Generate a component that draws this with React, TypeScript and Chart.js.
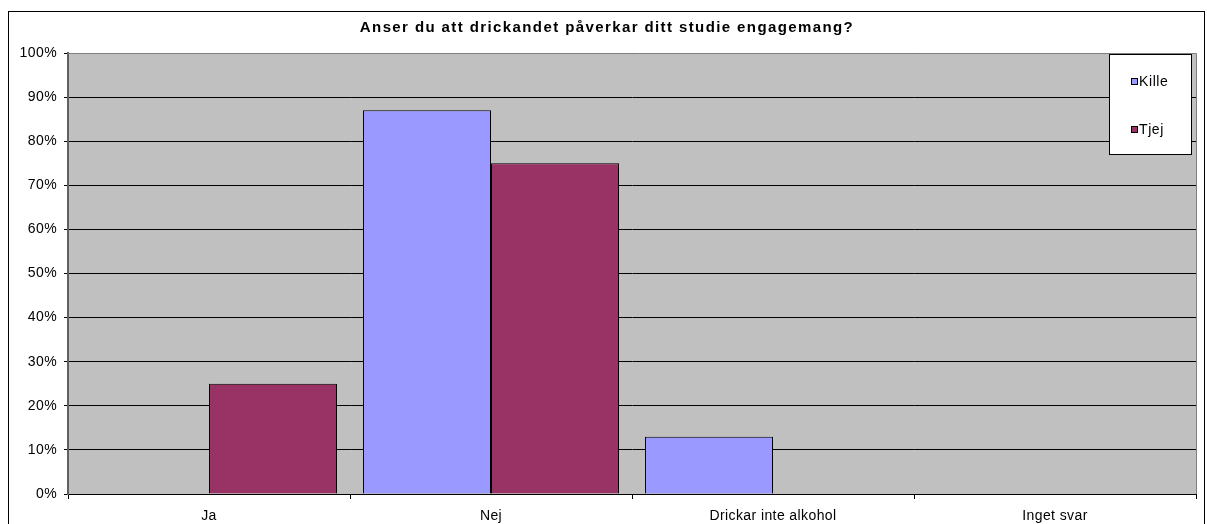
import React, { useEffect, useRef } from "react";
import { Chart, registerables } from "chart.js";

Chart.register(...registerables);

const TITLE = "Anser du att drickandet påverkar ditt studie engagemang?";
const categories = ["Ja", "Nej", "Drickar inte alkohol", "Inget svar"];
const seriesNames = ["Kille", "Tjej"];
const kille = [0, 87, 13, 0];
const tjej = [25, 75, 0, 0];
const yTicks = [0, 10, 20, 30, 40, 50, 60, 70, 80, 90, 100];

const COLORS = ["#9999FF", "#993366"];
const FONT = "'Liberation Sans', Arial, sans-serif";

const framePlugin = {
  id: "frame",
  beforeDraw(chart: any) {
    const { ctx, chartArea } = chart;
    ctx.save();
    ctx.fillStyle = "#ffffff";
    ctx.fillRect(0, 0, chart.width, chart.height);
    ctx.fillStyle = "#C0C0C0";
    ctx.fillRect(chartArea.left, chartArea.top, chartArea.right - chartArea.left, chartArea.bottom - chartArea.top);
    // outer frame
    ctx.strokeStyle = "#000";
    ctx.lineWidth = 1;
    ctx.strokeRect(8.5, 11.5, 1196, 540);
    // title
    ctx.fillStyle = "#000";
    ctx.font = "bold 15px " + FONT;
    (ctx as any).letterSpacing = "1.4px";
    ctx.textAlign = "center";
    ctx.textBaseline = "middle";
    ctx.fillText(TITLE, 607, 28);
    ctx.restore();
    (ctx as any).letterSpacing = "0.4px";
  },
  beforeDatasetsDraw(chart: any) {
    const { ctx, chartArea } = chart;
    ctx.save();
    ctx.strokeStyle = "#808080";
    ctx.lineWidth = 1;
    ctx.beginPath();
    ctx.moveTo(chartArea.left, chartArea.top + 0.5);
    ctx.lineTo(chartArea.right + 0.5, chartArea.top + 0.5);
    ctx.lineTo(chartArea.right + 0.5, chartArea.bottom);
    ctx.stroke();
    ctx.restore();
  },
  afterDraw(chart: any) {
    const { ctx, chartArea } = chart;
    const x0 = chartArea.right - 87;
    const y0 = chartArea.top + 1;
    const w = 82;
    const h = 100;
    ctx.save();
    ctx.fillStyle = "#fff";
    ctx.fillRect(x0, y0, w, h);
    ctx.strokeStyle = "#000";
    ctx.lineWidth = 1;
    ctx.strokeRect(x0 + 0.5, y0 + 0.5, w, h);
    ctx.font = "14px " + FONT;
    (ctx as any).letterSpacing = "0.6px";
    ctx.textAlign = "left";
    ctx.textBaseline = "middle";
    chart.data.datasets.forEach((ds: any, i: number) => {
      const cy = y0 + 27 + i * 48;
      ctx.fillStyle = ds.backgroundColor;
      ctx.fillRect(x0 + 22, cy - 3, 7, 7);
      ctx.strokeStyle = "#000";
      ctx.strokeRect(x0 + 22.5, cy - 2.5, 6, 6);
      ctx.fillStyle = "#000";
      ctx.fillText(ds.label, x0 + 30, cy + 1);
    });
    ctx.restore();
  },
};

export default function App() {
  const ref = useRef<HTMLCanvasElement>(null);
  useEffect(() => {
    if (!ref.current) return;
    const chart = new Chart(ref.current, {
      type: "bar",
      data: {
        labels: categories,
        datasets: [
          {
            label: seriesNames[0],
            data: kille,
            backgroundColor: COLORS[0],
            borderColor: "#000",
            borderWidth: (c: any) => (c.raw === 0 ? 0 : 1),
            categoryPercentage: 0.908,
            barPercentage: 1,
          },
          {
            label: seriesNames[1],
            data: tjej,
            backgroundColor: COLORS[1],
            borderColor: "#000",
            borderWidth: (c: any) => (c.raw === 0 ? 0 : 1),
            categoryPercentage: 0.908,
            barPercentage: 1,
          },
        ],
      },
      options: {
        responsive: false,
        animation: false,
        layout: { padding: { top: 53, right: 11, left: 0, bottom: 0 } },
        plugins: {
          legend: { display: false },
          title: { display: false },
          tooltip: { enabled: false },
        },
        scales: {
          x: {
            offset: true,
            grid: {
              display: true,
              offset: true,
              drawOnChartArea: false,
              drawTicks: true,
              tickLength: 5,
              color: "#000",
            },
            border: { color: "#000", width: 1 },
            ticks: { color: "#000", font: { family: FONT, size: 14 }, padding: 9, maxRotation: 0 },
            afterFit: (s: any) => {
              s.height = 30;
            },
          },
          y: {
            min: 0,
            max: 100,
            afterBuildTicks: (s: any) => {
              s.ticks = yTicks.map((v) => ({ value: v }));
            },
            grid: { color: "#000", lineWidth: 1, tickLength: 4, drawTicks: true },
            border: { color: "#606060", width: 2 },
            ticks: {
              color: "#000",
              font: { family: FONT, size: 14 },
              padding: 7,
              callback: (v: any) => v + "%",
            },
            afterFit: (s: any) => {
              s.width = 68;
            },
          },
        },
      },
      plugins: [framePlugin],
    } as any);
    return () => chart.destroy();
  }, []);
  return (
    <div style={{ position: "absolute", left: 0, top: 0, width: 1207, height: 524 }}>
      <canvas ref={ref} width={1207} height={524} />
    </div>
  );
}
